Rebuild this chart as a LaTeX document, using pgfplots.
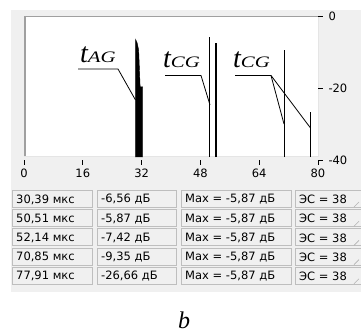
\documentclass[border=0pt]{standalone}
\usepackage{fontspec}
\setmainfont{DejaVu Sans}
\newfontfamily\tnr{Liberation Serif}
\usepackage{graphicx}
\usepackage{pgfplots}
\pgfplotsset{compat=1.18}
\definecolor{panel}{HTML}{F0F0F0}
\definecolor{frameg}{HTML}{A0A0A0}
\definecolor{boxg}{HTML}{BEBEBE}
\newcommand{\lbl}[2]{{\tnr\itshape\fontsize{28}{28}\selectfont #1}{\tnr\itshape\fontsize{16}{16}\selectfont\scalebox{1.3}[1]{#2}}}
\newcommand{\cell}[4]{%
  \draw[boxg, line width=0.8pt] (#1+0.5,#3+0.5) rectangle (#2-0.5,#3+17.5);
  \node[anchor=west, inner sep=0pt, font=\fontsize{11.5}{12}\selectfont] at (#1+4,#3+9.5) {#4};}
\newcommand{\row}[5]{%
  \cell{12}{93}{#1}{#2}\cell{97}{177}{#1}{#3}\cell{181}{292}{#1}{#4}\cell{295}{365}{#1}{#5}%
  \draw[gray!60, line width=0.6pt] (354,#1+17) -- (359,#1+12);}
\begin{document}
\begin{tikzpicture}[x=1pt,y=-1pt]
\path[use as bounding box] (0,0) rectangle (361,336);
\fill[panel] (11,10) rectangle (361,292);
\fill[white] (24,16) rectangle (318,157);
\draw[frameg, line width=1.5pt] (24.75,157) -- (24.75,16.75) -- (318,16.75);
\draw[gray!20, line width=1pt] (318,16) -- (318,157) -- (24,157);
\begin{axis}[at={(24pt,-160pt)}, anchor=south west, scale only axis,
  width=294pt, height=144pt,
  xmin=0, xmax=80, ymin=-40, ymax=0,
  axis x line*=bottom, axis y line*=right,
  axis line style={draw=none},
  tick align=outside, major tick length=5pt,
  every tick/.style={black, line width=0.8pt},
  xtick={0,16,32,48,64,80}, xticklabels={0,16,32,48,64,80},
  ytick={-40,-20,0}, yticklabels={-40,-20,0},
  tick label style={font=\fontsize{11.5}{11.5}\selectfont},
  yticklabel style={xshift=2pt},
  clip=false]
\addplot[fill=black, draw=black, line width=0.4pt] coordinates {(30.39,-39.2) (30.39,-6.56) (30.8,-7.5) (31.2,-9.5) (31.6,-19.7) (32.3,-19.7) (32.3,-39.2)};
\addplot[black, line width=1pt] coordinates {(50.51,-39.2) (50.51,-5.87)};
\addplot[black, line width=1.8pt] coordinates {(52.14,-39.2) (52.14,-7.42)};
\addplot[black, line width=1.2pt] coordinates {(70.85,-39.2) (70.85,-9.35)};
\addplot[black, line width=1.4pt] coordinates {(77.91,-39.2) (77.91,-26.66)};
\end{axis}
\node[anchor=base west, inner sep=0pt] at (80,63) {\lbl{t}{AG}};
\draw[black, line width=0.8pt] (78,69) -- (118,69) -- (135.5,100);
\node[anchor=base west, inner sep=0pt] at (163,68) {\lbl{t}{CG}};
\draw[black, line width=0.8pt] (165,75.5) -- (201,75.5) -- (210,105);
\node[anchor=base west, inner sep=0pt] at (233,68) {\lbl{t}{CG}};
\draw[black, line width=0.8pt] (235,75.5) -- (271,75.5) -- (284,124);
\draw[black, line width=0.8pt] (271,75.5) -- (310.5,128);
\row{190}{30,39 мкс}{-6,56 дБ}{Max = -5,87 дБ}{ЭС = 38}
\row{209.2}{50,51 мкс}{-5,87 дБ}{Max = -5,87 дБ}{ЭС = 38}
\row{228.4}{52,14 мкс}{-7,42 дБ}{Max = -5,87 дБ}{ЭС = 38}
\row{247.6}{70,85 мкс}{-9,35 дБ}{Max = -5,87 дБ}{ЭС = 38}
\row{266.8}{77,91 мкс}{-26,66 дБ}{Max = -5,87 дБ}{ЭС = 38}
\node[font=\tnr\itshape\fontsize{24}{24}\selectfont] at (184,320) {b};
\end{tikzpicture}
\end{document}
